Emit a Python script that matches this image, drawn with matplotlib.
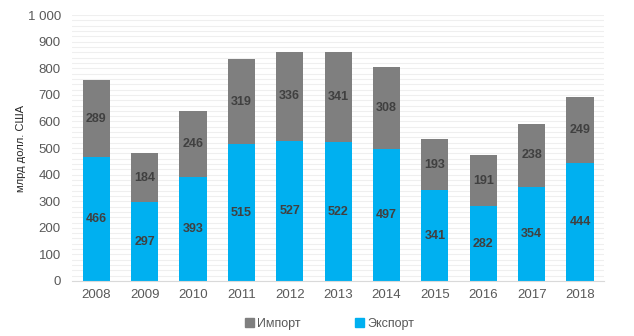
import numpy as np
import matplotlib
matplotlib.use('Agg')
import matplotlib.pyplot as plt
from matplotlib.patches import Patch

plt.rcParams['font.family'] = ['Liberation Sans', 'DejaVu Sans']

years = ['2008', '2009', '2010', '2011', '2012', '2013', '2014', '2015', '2016', '2017', '2018']
export = [466, 297, 393, 515, 527, 522, 497, 341, 282, 354, 444]
imports = [289, 184, 246, 319, 336, 341, 308, 193, 191, 238, 249]

c_exp = '#00B0F0'
c_imp = '#7F7F7F'
txt = '#595959'

fig = plt.figure(figsize=(6.34, 3.36), dpi=100)
ax = fig.add_axes([0.1136, 0.1637, 0.8394, 0.7913])

x = np.arange(len(years))
w = 0.56
ax.bar(x, export, w, color=c_exp, zorder=3)
ax.bar(x, imports, w, bottom=export, color=c_imp, zorder=3)

for i in range(len(years)):
    ax.text(x[i], export[i] / 2, str(export[i]), ha='center', va='center',
            fontsize=9, fontweight='bold', color='#404040', zorder=4)
    ax.text(x[i], export[i] + imports[i] / 2, str(imports[i]), ha='center',
            va='center', fontsize=9, fontweight='bold', color='#404040', zorder=4)

ax.set_xlim(-0.5, len(years) - 0.5)
ax.set_ylim(0, 1000)
ax.set_xticks(x)
ax.set_xticklabels(years)
yt = np.arange(0, 1001, 100)
ax.set_yticks(yt)
ax.set_yticklabels(['1 000' if v == 1000 else str(v) for v in yt])
ax.set_yticks(np.arange(0, 1001, 20), minor=True)
ax.tick_params(axis='both', which='both', length=0, labelsize=9.5, colors=txt)
ax.tick_params(axis='x', pad=6)
ax.tick_params(axis='y', pad=8)
ax.grid(axis='y', which='both', color='#EFEFEF', lw=0.8, zorder=0)

for s in ['top', 'right', 'left']:
    ax.spines[s].set_visible(False)
ax.spines['bottom'].set_color('#D9D9D9')
ax.spines['bottom'].set_zorder(5)

ax.set_ylabel('млрд долл. США', fontsize=8, color='#262626', labelpad=1)

handles = [Patch(color=c_imp, label='Импорт'), Patch(color=c_exp, label='Экспорт')]
fig.legend(handles=handles, loc='center', bbox_to_anchor=(0.52, 0.035), ncol=2,
           frameon=False, fontsize=9, labelcolor=txt, handlelength=0.7,
           handleheight=0.7, handletextpad=0.3, columnspacing=4.3)

fig.savefig('out.png', dpi=100)
